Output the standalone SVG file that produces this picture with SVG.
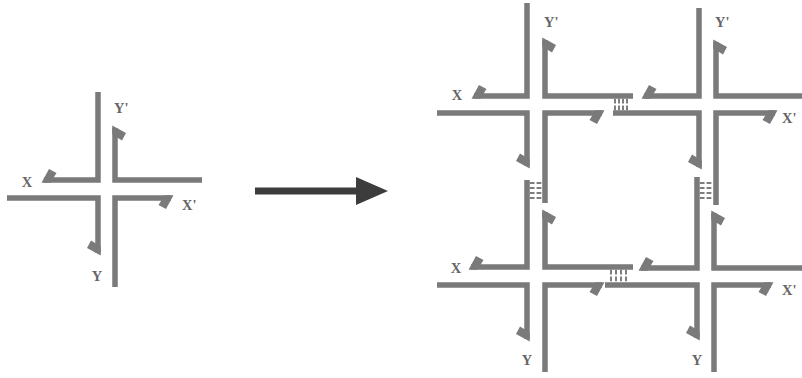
<svg xmlns="http://www.w3.org/2000/svg" width="802" height="378" viewBox="0 0 802 378">
<style>
.s{fill:none;stroke:#7a7a7a;stroke-width:5.5;stroke-linejoin:miter;stroke-linecap:butt;marker-end:url(#half)}
.bp{stroke:#7e7e7e;stroke-width:2;stroke-dasharray:4.8 2}
.t{font-family:"Liberation Serif","Times New Roman",serif;font-weight:bold;font-size:14.5px;fill:#666}
.m{text-anchor:middle}
</style>
<defs>
<marker id="half" markerUnits="userSpaceOnUse" markerWidth="40" markerHeight="40" viewBox="-20 -20 40 40" refX="0" refY="0" orient="auto" overflow="visible">
<path d="M2.5 -2.75 L-5 11 L-12.5 7 L-6.5 -2.75 Z" fill="#7a7a7a"/>
</marker>
</defs>
<rect width="802" height="378" fill="#fff"/>
<g id="junction-single">
<path class="s" d="M98 92 V180 H44"/>
<path class="s" d="M202 180 H115 V128"/>
<path class="s" d="M7 198 H98 V253"/>
<path class="s" d="M115 287 V198 H171"/>
<text class="t m" x="27" y="187">X</text>
<text class="t" x="114" y="113">Y'</text>
<text class="t" x="182" y="210">X'</text>
<text class="t m" x="97" y="281">Y</text>
</g>
<g id="junction-tl">
<path class="s" d="M527 3 V96 H474"/>
<path class="s" d="M633 96 H545 V40"/>
<path class="s" d="M437 113 H527 V166"/>
<path class="s" d="M545 203 V113 H602"/>
<text class="t m" x="457" y="100">X</text>
<text class="t" x="544" y="27">Y'</text>
</g>
<g id="junction-tr">
<path class="s" d="M699 8 V96 H644"/>
<path class="s" d="M802 96 H716 V42"/>
<path class="s" d="M613 113 H699 V167"/>
<path class="s" d="M716 205 V113 H775"/>
<text class="t" x="715" y="27">Y'</text>
<text class="t" x="782" y="123">X'</text>
</g>
<g id="junction-bl">
<path class="s" d="M527 180 V267 H471"/>
<path class="s" d="M633 267 H545 V212"/>
<path class="s" d="M437 285 H527 V339"/>
<path class="s" d="M545 372 V285 H602"/>
<text class="t m" x="456" y="273">X</text>
<text class="t m" x="527" y="365">Y</text>
</g>
<g id="junction-br">
<path class="s" d="M697 177 V268 H641"/>
<path class="s" d="M802 268 H714 V213"/>
<path class="s" d="M605 285 H697 V338"/>
<path class="s" d="M714 372 V285 H771"/>
<text class="t m" x="697" y="365">Y</text>
<text class="t" x="782" y="295">X'</text>
</g>
<g id="connectors">
<g id="sticky-top">
<path class="bp" d="M615 98.75 V110.25 M619 98.75 V110.25 M623 98.75 V110.25 M627 98.75 V110.25"/>
</g>
<g id="sticky-bottom">
<path class="bp" d="M611 269.75 V282.25 M616 269.75 V282.25 M621 269.75 V282.25 M626 269.75 V282.25"/>
</g>
<g id="sticky-left">
<path class="bp" d="M529.75 183 H542.25 M529.75 188 H542.25 M529.75 193 H542.25 M529.75 198 H542.25"/>
</g>
<g id="sticky-right">
<path class="bp" d="M699.75 183 H713.25 M699.75 188 H713.25 M699.75 193 H713.25 M699.75 198 H713.25"/>
</g>
<g id="big-arrow">
<path d="M255 191 H360" stroke="#3c3c3c" stroke-width="7" fill="none"/>
<polygon points="356,177 388,191 356,205" fill="#3c3c3c"/>
</g>
</g>
</svg>
